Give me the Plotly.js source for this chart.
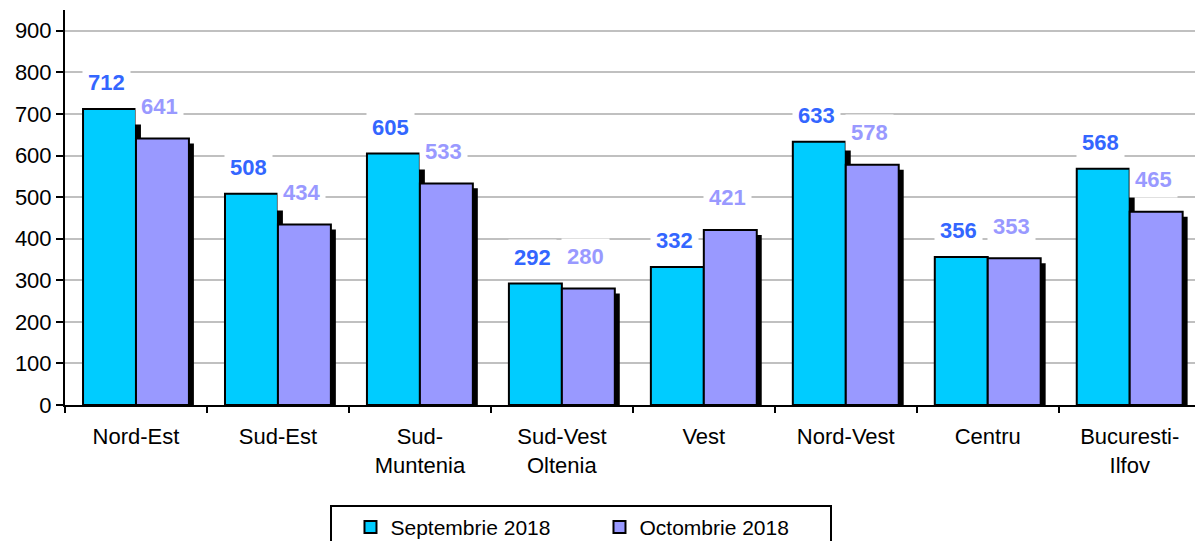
<!DOCTYPE html>
<html>
<head>
<meta charset="utf-8">
<script src="https://cdn.plot.ly/plotly-3.0.1.min.js"></script>
<style>
  html, body { margin: 0; padding: 0; background: #fff; }
  #chart { width: 1195px; height: 541px; }
</style>
</head>
<body>
<div id="chart"></div>
<script>
// regions and monthly values
const regions = ["Nord-Est", "Sud-Est", "Sud-<br>Muntenia", "Sud-Vest<br>Oltenia", "Vest", "Nord-Vest", "Centru", "Bucuresti-<br>Ilfov"];
const sept2018 = [712, 508, 605, 292, 332, 633, 356, 568];
const oct2018 = [641, 434, 533, 280, 421, 578, 353, 465];
const seriesNames = ["Septembrie 2018", "Octombrie 2018"];
const yTicks = [0, 100, 200, 300, 400, 500, 600, 700, 800, 900];

const barW = 0.373;      // width of one bar, in category units
const shX = 0.035;       // shadow shift right (category units)
const shY = 12;          // shadow drop (y units)
const fontFam = "Arial, 'Liberation Sans', sans-serif";

const gd = document.getElementById("chart");

function shadow(vals, off) {
  return {
    type: "bar", x: regions, y: vals.map(v => v - shY),
    offset: off + shX, width: barW,
    marker: { color: "#000", line: { width: 0 } },
    showlegend: false, hoverinfo: "skip"
  };
}

function bars(vals, off, color, name) {
  return {
    type: "bar", x: regions, y: vals, name: name,
    offset: off, width: barW,
    marker: { color: color, line: { color: "#000", width: 2 } }
  };
}

const traces = [
  shadow(sept2018, -barW),
  shadow(oct2018, 0),
  bars(sept2018, -barW, "#00CCFF", seriesNames[0]),
  bars(oct2018, 0, "#9999FF", seriesNames[1])
];

// value labels sitting above each bar on a white box
const annotations = [];
sept2018.forEach((v, i) => {
  annotations.push({
    x: i - barW / 2, y: v, xref: "x", yref: "y", yshift: 26, xshift: -3,
    text: String(v), showarrow: false, bgcolor: "#fff", borderpad: 5,
    font: { family: fontFam, size: 22, color: "#3366FF", weight: "bold" }
  });
});
oct2018.forEach((v, i) => {
  annotations.push({
    x: i + barW / 2, y: v, xref: "x", yref: "y", yshift: 32, xshift: -3,
    text: String(v), showarrow: false, bgcolor: "#fff", borderpad: 5,
    font: { family: fontFam, size: 22, color: "#9999FF", weight: "bold" }
  });
});

const layout = {
  width: 1195,
  height: 541,
  margin: { l: 65, r: 0, t: 10, b: 136 },
  paper_bgcolor: "#fff",
  plot_bgcolor: "#fff",
  barmode: "overlay",
  font: { family: fontFam, size: 22, color: "#000" },
  xaxis: {
    type: "category",
    range: [-0.5, 7.46],
    tickson: "boundaries",
    ticks: "outside", ticklen: 6, tickwidth: 2, tickcolor: "#000",
    ticklabelstandoff: 11,
    showline: true, linecolor: "#000", linewidth: 2,
    showgrid: false,
    tickfont: { family: fontFam, size: 22, color: "#000" }
  },
  yaxis: {
    range: [0, 950],
    tickvals: yTicks,
    ticks: "outside", ticklen: 7, tickwidth: 2, tickcolor: "#000",
    showline: true, linecolor: "#000", linewidth: 2,
    showgrid: true, gridcolor: "#C0C0C0", gridwidth: 2,
    zeroline: false,
    tickfont: { family: fontFam, size: 22, color: "#000" }
  },
  legend: {
    orientation: "h",
    xref: "container", yref: "container",
    x: 0.4866, xanchor: "center",
    y: 0.067, yanchor: "top",
    bordercolor: "#000", borderwidth: 2,
    indentation: 18,
    entrywidth: 186,
    font: { family: fontFam, size: 21, color: "#000" }
  },
  annotations: annotations,
  showlegend: true
};

Plotly.newPlot(gd, traces, layout, { displayModeBar: false, staticPlot: true });
</script>
</body>
</html>
